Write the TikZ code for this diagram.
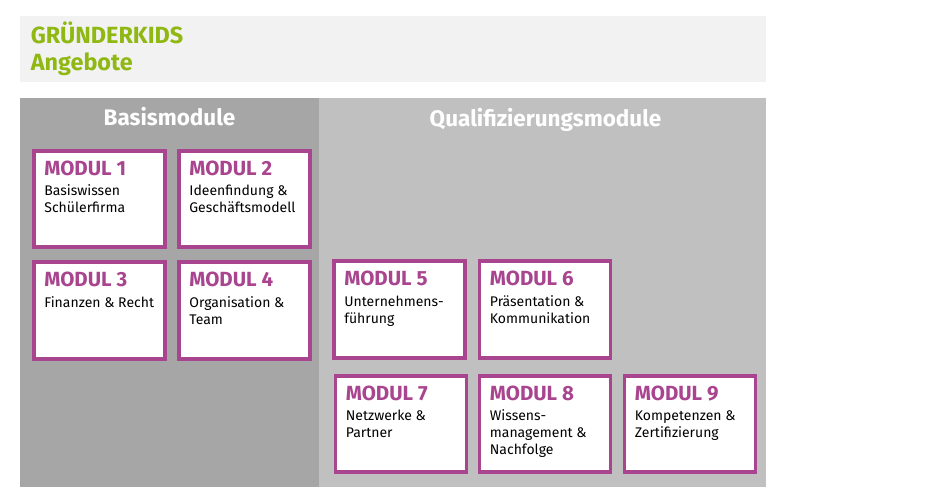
\documentclass[tikz,border=0pt]{standalone}
\usepackage{fontspec}
\setmainfont{Fira Sans}
\usetikzlibrary{positioning, calc}
\definecolor{cGreen}{HTML}{8FB812}
\definecolor{cMagenta}{HTML}{A9448F}
\definecolor{cHeader}{HTML}{F2F2F2}
\definecolor{cBasis}{HTML}{A6A6A6}
\definecolor{cQuali}{HTML}{C0C0C0}

\begin{document}
\begin{tikzpicture}[
  x=1pt, y=-1pt,
  panel/.style={fill=#1, inner sep=0pt, outer sep=0pt},
  heading/.style={anchor=base, inner sep=0pt, text=white,
    font=\fontsize{22.5}{26}\selectfont\bfseries},
  brand/.style={anchor=base west, inner sep=0pt, text=cGreen,
    font=\fontsize{23.4}{28}\selectfont\bfseries},
  modbox/.style={draw=cMagenta, fill=white, line width=3.6pt,
    minimum width=131pt, minimum height=96.5pt, inner sep=0pt, outer sep=0pt},
  modtitle/.style={anchor=base west, inner sep=0pt, text=cMagenta,
    font=\fontsize{20.5}{24}\selectfont\bfseries},
  modtext/.style={anchor=north west, inner sep=0pt, align=left, text=black,
    font=\fontsize{14}{17}\selectfont}
]
  \useasboundingbox (0,0) rectangle (950,500);

  % header
  \node[panel=cHeader, minimum width=746pt, minimum height=66pt] (head) at (393,49) {};
  \node[brand] (brand1) at ($(head.west)+(10.7,-5.7)$) {GRÜNDERKIDS};
  \node[brand] (brand2) at ($(head.west)+(10.7,22)$) {Angebote};

  % panels
  \node[panel=cBasis, minimum width=299pt, minimum height=389pt] (basis) at (169.5,292.5) {};
  \node[panel=cQuali, minimum width=447pt, minimum height=389pt] (quali) at (542.5,292.5) {};
  \node[heading] (basisT) at ($(basis.north)+(0,27)$) {Basismodule};
  \node[heading] (qualiT) at ($(quali.north)+(3,29)$) {Qualifizierungsmodule};

  % Basismodule
  \node[modbox] (m1) at (99.5,199) {};
  \node[modtitle] (m1t) at ($(m1.north west)+(10.2,24.6)$) {MODUL 1};
  \node[modtext] (m1d) at ($(m1.north west)+(10.2,32.7)$) {\strut Basiswissen\\Schülerfirma};

  \node[modbox] (m2) at (244.5,199) {};
  \node[modtitle] (m2t) at ($(m2.north west)+(10.2,24.6)$) {MODUL 2};
  \node[modtext] (m2d) at ($(m2.north west)+(10.2,32.7)$) {\strut Ideenfindung \&\\Geschäftsmodell};

  \node[modbox] (m3) at (99.5,310.5) {};
  \node[modtitle] (m3t) at ($(m3.north west)+(10.2,24.6)$) {MODUL 3};
  \node[modtext] (m3d) at ($(m3.north west)+(10.2,32.7)$) {\strut Finanzen \& Recht};

  \node[modbox] (m4) at (244.5,310.5) {};
  \node[modtitle] (m4t) at ($(m4.north west)+(10.2,24.6)$) {MODUL 4};
  \node[modtext] (m4d) at ($(m4.north west)+(10.2,32.7)$) {\strut Organisation \&\\Team};

  % Qualifizierungsmodule
  \node[modbox] (m5) at (399.5,309.5) {};
  \node[modtitle] (m5t) at ($(m5.north west)+(10.2,24.6)$) {MODUL 5};
  \node[modtext] (m5d) at ($(m5.north west)+(10.2,32.7)$) {\strut Unternehmens-\\führung};

  \node[modbox] (m6) at (545,309.5) {};
  \node[modtitle] (m6t) at ($(m6.north west)+(10.2,24.6)$) {MODUL 6};
  \node[modtext] (m6d) at ($(m6.north west)+(10.2,32.7)$) {\strut Präsentation \&\\Kommunikation};

  \node[modbox] (m7) at (401,424) {};
  \node[modtitle] (m7t) at ($(m7.north west)+(10.2,24.6)$) {MODUL 7};
  \node[modtext] (m7d) at ($(m7.north west)+(10.2,32.7)$) {\strut Netzwerke \&\\Partner};

  \node[modbox] (m8) at (545,424) {};
  \node[modtitle] (m8t) at ($(m8.north west)+(10.2,24.6)$) {MODUL 8};
  \node[modtext] (m8d) at ($(m8.north west)+(10.2,32.7)$) {\strut Wissens-\\management \&\\Nachfolge};

  \node[modbox] (m9) at (690,424) {};
  \node[modtitle] (m9t) at ($(m9.north west)+(10.2,24.6)$) {MODUL 9};
  \node[modtext] (m9d) at ($(m9.north west)+(10.2,32.7)$) {\strut Kompetenzen \&\\Zertifizierung};

\end{tikzpicture}
\end{document}
